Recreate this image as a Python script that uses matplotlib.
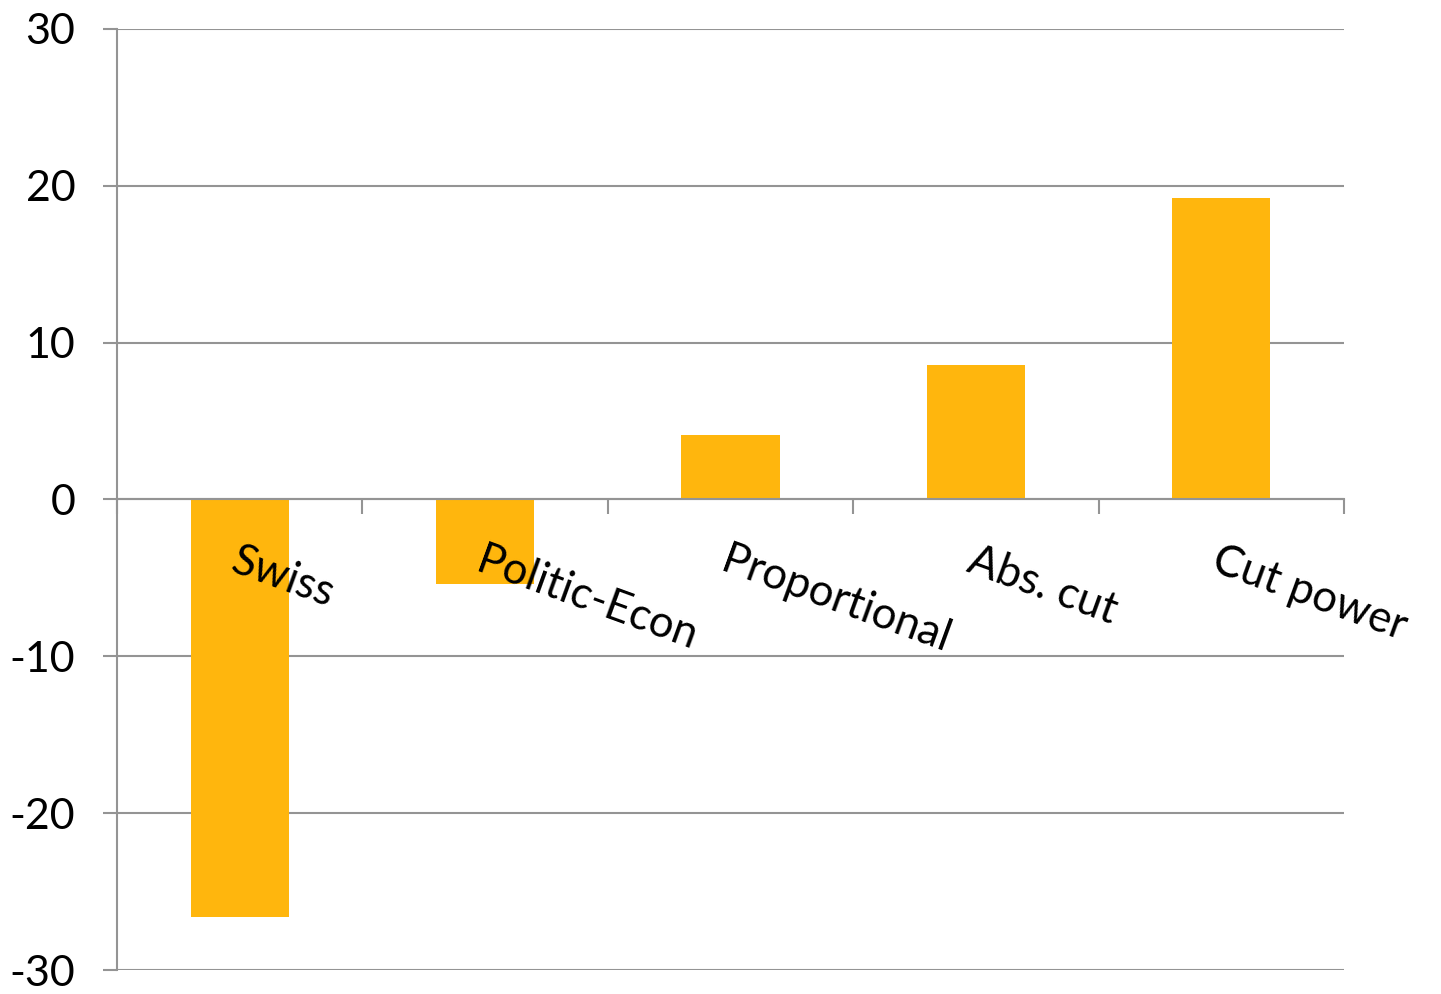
import matplotlib.pyplot as plt

categories = ["Swiss", "Politic-Econ", "Proportional", "Abs. cut", "Cut power"]
values = [-26.6, -5.4, 4.1, 8.6, 19.2]
y_ticks = [-30, -20, -10, 0, 10, 20, 30]

BAR_COLOR = "#FFB60D"
GRID_COLOR = "#949494"


def draw_chart():
    plt.rcParams["font.family"] = ["Lato", "DejaVu Sans"]
    fig = plt.figure(figsize=(14.41, 9.94), dpi=100)
    ax = fig.add_axes([117 / 1441, 1 - 970 / 994, (1344 - 117) / 1441, (970 - 29) / 994])

    x = list(range(len(categories)))
    ax.bar(x, values, width=0.4, color=BAR_COLOR, zorder=2)

    ax.set_xlim(-0.5, len(categories) - 0.5)
    ax.set_ylim(-30, 30)
    ax.set_yticks(y_ticks)
    ax.set_yticklabels([str(v) for v in y_ticks], fontsize=31)
    ax.yaxis.grid(True, color=GRID_COLOR, linewidth=1.5)
    ax.yaxis.set_zorder(1)
    ax.tick_params(axis="y", length=10, width=1.5, color=GRID_COLOR, pad=20)

    # category axis sits on zero line, labels drawn over the bars
    ax.spines["bottom"].set_position(("data", 0))
    ax.spines["bottom"].set_color(GRID_COLOR)
    ax.spines["bottom"].set_linewidth(1.5)
    ax.spines["bottom"].set_zorder(4)
    ax.spines["left"].set_color(GRID_COLOR)
    ax.spines["left"].set_linewidth(1.5)
    ax.spines["top"].set_visible(False)
    ax.spines["right"].set_visible(False)
    ax.xaxis.set_zorder(5)

    ax.set_xticks(x)
    ax.set_xticklabels(categories, fontsize=31.5, rotation=-20,
                       rotation_mode="anchor", ha="left", va="top")
    ax.tick_params(axis="x", which="major", length=0, pad=29)
    ax.set_xticks([i - 0.5 for i in range(len(categories) + 1)], minor=True)
    ax.tick_params(axis="x", which="minor", length=11, width=1.5,
                   color=GRID_COLOR, direction="out")

    fig.savefig("out.png", dpi=100)


if __name__ == "__main__":
    draw_chart()
